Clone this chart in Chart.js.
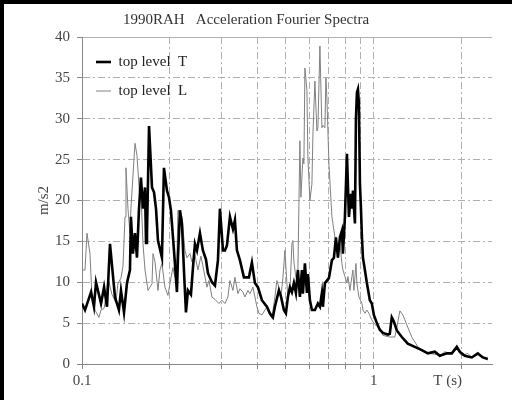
<!DOCTYPE html>
<html><head><meta charset="utf-8">
<script src="https://cdn.jsdelivr.net/npm/chart.js@4"></script>
<style>html,body{margin:0;padding:0;background:#fff}#wrap{width:512px;height:400px;position:relative}</style>
</head><body><div id="wrap"><canvas id="c" width="512" height="400"></canvas></div>
<script>
const chartTitle = '1990RAH   Acceleration Fourier Spectra';
const seriesNames = ['top level  T', 'top level  L'];
const yAxisLabel = 'm/s2';
const xAxisUnit = 'T (s)';

const periodT = [0.1,0.1024,0.1074,0.1099,0.1117,0.1162,0.119,0.1218,0.1247,0.1297,0.1317,0.1338,0.136,0.1393,0.1426,0.146,0.1471,0.1495,0.1519,0.1543,0.1567,0.1592,0.1618,0.1644,0.1657,0.167,0.1697,0.1737,0.1765,0.1793,0.1821,0.1879,0.1909,0.1955,0.1986,0.2017,0.2066,0.2115,0.2132,0.2166,0.22,0.2235,0.2271,0.2307,0.2362,0.24,0.2438,0.2477,0.2536,0.2596,0.2659,0.2701,0.2788,0.2855,0.2923,0.2969,0.3041,0.3089,0.3138,0.3213,0.329,0.3342,0.3395,0.3476,0.3588,0.3732,0.3821,0.3913,0.4006,0.4135,0.4301,0.4404,0.4509,0.4581,0.4728,0.4803,0.4918,0.4996,0.5076,0.5157,0.5239,0.5322,0.5407,0.5493,0.558,0.5669,0.5714,0.5805,0.5897,0.5944,0.6038,0.6134,0.6281,0.6432,0.6534,0.6638,0.6691,0.6797,0.6905,0.7015,0.7183,0.7298,0.7414,0.7532,0.7652,0.7773,0.7835,0.796,0.8087,0.8215,0.8346,0.8412,0.8479,0.8614,0.8682,0.8751,0.882,0.889,0.896,0.9031,0.9103,0.9175,0.9318,0.9464,0.9539,0.969,0.9844,1.0,1.024,1.048,1.074,1.117,1.134,1.152,1.171,1.199,1.247,1.307,1.381,1.46,1.531,1.618,1.683,1.778,1.85,1.924,1.97,2.049,2.166,2.271,2.362,2.457];
const accelT = [7.4,6.6,8.8,7.0,10.0,7.4,9.4,7.0,14.7,8.2,7.4,6.6,9.0,6.3,9.9,11.5,18.0,13.5,16.0,13.0,18.8,22.8,19.0,21.6,14.8,16.0,29.1,21.6,21.0,19.0,15.1,13.0,24.0,21.2,20.4,18.8,13.9,8.8,13.0,18.8,17.2,11.5,6.3,9.0,8.5,11.8,14.7,13.9,16.0,13.9,12.8,11.1,10.0,9.6,12.7,19.0,13.9,13.9,14.5,18.0,16.5,17.6,13.9,12.7,10.6,10.6,12.4,9.9,9.4,7.8,7.0,6.2,5.7,7.0,9.0,8.3,6.6,6.2,8.2,9.4,8.8,9.9,8.7,11.5,8.2,11.5,8.6,12.3,8.7,11.0,7.8,6.6,6.6,7.4,7.0,8.7,7.0,9.9,10.2,10.5,12.7,13.0,15.5,13.0,15.5,16.3,13.5,18.0,25.7,18.0,20.8,19.0,21.2,17.2,30.0,33.2,33.6,31.8,22.0,19.1,15.5,13.0,11.5,9.9,9.2,7.8,7.4,6.0,5.0,4.2,3.8,3.6,3.7,5.7,5.2,4.1,3.3,2.5,2.1,1.7,1.3,1.5,1.0,1.3,1.3,2.1,1.5,1.0,0.8,1.3,0.8,0.6];

const periodL = [0.1,0.1024,0.104,0.1065,0.1082,0.1108,0.1143,0.1162,0.119,0.1208,0.1228,0.1267,0.1307,0.1328,0.136,0.1382,0.1404,0.1415,0.1437,0.146,0.1471,0.1519,0.1543,0.158,0.1592,0.1618,0.1644,0.1683,0.1737,0.1751,0.1779,0.1821,0.185,0.1879,0.1924,0.197,0.2017,0.2049,0.2082,0.2115,0.2132,0.22,0.2253,0.2289,0.2344,0.2381,0.2438,0.2496,0.2556,0.2596,0.268,0.2722,0.2788,0.2855,0.2946,0.3017,0.3089,0.3162,0.3213,0.329,0.3342,0.3422,0.3476,0.3559,0.3616,0.3703,0.3762,0.3851,0.3913,0.3975,0.4038,0.4135,0.4234,0.4301,0.4369,0.4474,0.4581,0.4654,0.4728,0.4803,0.4879,0.4957,0.5036,0.5076,0.5157,0.5239,0.528,0.5322,0.5407,0.5493,0.558,0.5624,0.5714,0.5759,0.5805,0.5897,0.5944,0.6038,0.6134,0.6183,0.6281,0.6381,0.6432,0.6534,0.6638,0.6691,0.6797,0.6851,0.6905,0.7015,0.7183,0.724,0.7356,0.7473,0.7532,0.7652,0.7773,0.7835,0.796,0.8087,0.8151,0.828,0.8412,0.8479,0.8546,0.8682,0.8751,0.889,0.9103,0.9175,0.9318,0.9464,0.9614,0.9844,1.0,1.024,1.048,1.074,1.134,1.18,1.199,1.228,1.257,1.277,1.307,1.349,1.415,1.46,1.531,1.618,1.683,1.751,1.85,1.924,2.001,2.098,2.166,2.271,2.362,2.457];
const accelL = [11.5,11.5,16.0,13.5,8.2,6.6,5.7,6.6,6.8,8.2,10.5,8.5,7.5,9.9,10.5,12.0,18.0,24.0,19.0,16.0,19.0,27.0,25.5,20.0,21.0,14.7,11.5,9.0,9.8,13.5,12.5,9.0,11.5,12.3,9.4,8.4,10.5,11.8,10.6,13.0,18.8,18.0,13.9,13.0,13.5,12.5,13.3,11.5,13.2,12.0,9.4,10.2,8.2,7.9,7.4,7.8,7.4,8.2,10.2,9.0,10.6,8.6,9.2,8.8,8.2,9.0,8.6,9.4,8.2,7.0,6.2,6.0,6.6,7.0,6.2,5.6,8.2,10.2,9.4,8.2,10.5,13.9,9.9,8.2,8.8,14.7,15.1,12.5,10.6,11.5,27.3,20.4,25.2,24.5,36.2,33.5,25.2,20.0,22.0,28.0,34.6,28.5,28.9,38.9,28.9,29.2,28.9,35.0,32.5,24.5,18.0,17.2,15.5,14.7,13.0,14.7,12.3,11.5,10.7,9.9,10.7,9.0,10.7,11.5,9.0,12.3,9.8,8.2,7.4,6.6,6.2,6.6,6.2,5.4,5.0,4.6,4.4,3.5,3.3,3.3,4.5,6.5,6.0,5.4,4.5,3.3,2.1,1.7,1.3,1.2,1.0,1.5,1.2,1.8,1.0,1.3,0.8,1.2,0.9,0.5];

const yTickValues = [0,5,10,15,20,25,30,35,40];
const xGridValues = [0.1,0.2,0.3,0.4,0.5,0.6,0.7,0.8,0.9,1,2];
const xTickLabels = {'0.1':'0.1','1':'1'};

const UNIT_TICK = 1.79;
const FONT = '"Liberation Serif", "Times New Roman", serif';
const DASH = [7,3,2,3];

const toPts = (xs, ys) => xs.map((x, i) => ({x: x, y: ys[i]}));

const framePlugin = {
  id: 'frame',
  beforeDraw(chart) {
    const c = chart.ctx;
    c.save(); c.fillStyle = '#fff'; c.fillRect(0, 0, chart.width, chart.height); c.restore();
  },
  afterDraw(chart) {
    const c = chart.ctx;
    c.save(); c.fillStyle = '#000';
    c.fillRect(0, 0, chart.width, 4);
    c.fillRect(0, 0, 4, chart.height);
    c.restore();
  }
};

new Chart(document.getElementById('c'), {
  type: 'line',
  data: {
    datasets: [
      {label: seriesNames[0], data: toPts(periodT, accelT), borderColor: '#000', backgroundColor: '#000', borderWidth: 2.6, pointRadius: 0, pointStyle: 'line', tension: 0},
      {label: seriesNames[1], data: toPts(periodL, accelL), borderColor: '#808080', backgroundColor: '#808080', borderWidth: 1, pointRadius: 0, pointStyle: 'line', tension: 0}
    ]
  },
  options: {
    responsive: false,
    animation: false,
    devicePixelRatio: 1,
    layout: {padding: {left: 0, right: 20, top: 0, bottom: 0}},
    plugins: {
      title: {display: true, text: chartTitle, color: '#333', font: {family: FONT, size: 15, weight: 'normal'}, padding: {top: 11, bottom: 8}},
      legend: {
        position: 'chartArea', align: 'start', fullSize: false,
        title: {display: true, text: ' ', font: {size: 1}, padding: {top: 39.3, bottom: 0}},
        labels: {usePointStyle: true, pointStyleWidth: 15, boxHeight: 15, padding: 14, color: '#222', font: {family: FONT, size: 15}}
      },
      tooltip: {enabled: false}
    },
    scales: {
      x: {
        type: 'logarithmic', min: 0.1, max: 2.54,
        afterBuildTicks: s => { s.ticks = xGridValues.concat([UNIT_TICK]).map(v => ({value: v})); },
        afterFit: s => { s.height = 36; },
        ticks: {
          autoSkip: false, maxRotation: 0, padding: 3, color: '#444', font: {family: FONT, size: 15},
          callback: v => (v === UNIT_TICK ? xAxisUnit : (xTickLabels[String(v)] || ''))
        },
        grid: {
          color: ctx => (ctx.tick && ctx.tick.value === UNIT_TICK) ? 'rgba(0,0,0,0)' : '#b0b0b0',
          tickColor: ctx => (ctx.tick && ctx.tick.value === UNIT_TICK) ? 'rgba(0,0,0,0)' : '#888',
          tickLength: 5, lineWidth: 1
        },
        border: {display: true, color: '#888', width: 1, dash: DASH}
      },
      y: {
        min: 0, max: 40,
        afterBuildTicks: s => { s.ticks = yTickValues.map(v => ({value: v})); },
        afterFit: s => { s.width = 82; },
        ticks: {padding: 7, color: '#444', font: {family: FONT, size: 15}},
        title: {display: true, text: yAxisLabel, color: '#444', font: {family: FONT, size: 15}, padding: {top: 35, bottom: 0}},
        grid: {color: '#b0b0b0', tickColor: '#888', tickLength: 5, lineWidth: 1},
        border: {display: true, color: '#888', width: 1, dash: ctx => (ctx.tick && ctx.tick.value === 40) ? [] : DASH}
      }
    }
  },
  plugins: [framePlugin]
});
</script></body></html>
